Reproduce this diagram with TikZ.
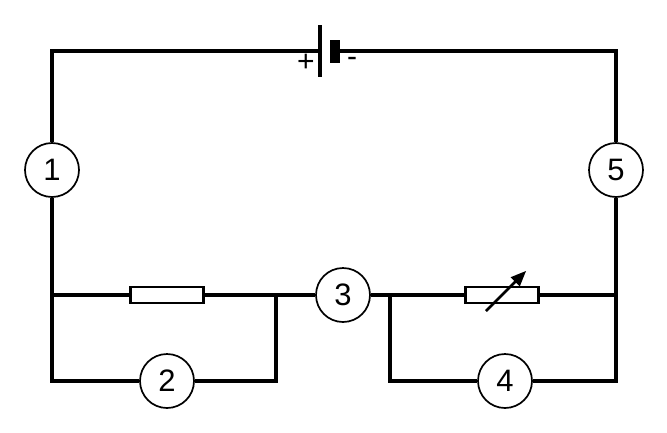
\documentclass[tikz,border=0pt]{standalone}
\usepackage{fontspec}
\setmainfont{Liberation Sans}
\usepackage{tikz}
\usetikzlibrary{arrows,calc}

\begin{document}
\begin{tikzpicture}[x=1pt,y=-1pt,
  wire/.style={line width=3.2pt},
  meter/.style={circle,draw,line width=1.7pt,minimum size=54pt,inner sep=0pt,fill=white,font=\fontsize{31}{36}\selectfont},
  resistor/.style={rectangle,draw,line width=2.2pt,minimum width=73pt,minimum height=16pt,inner sep=0pt,fill=white}]
\useasboundingbox (0,0) rectangle (667,432);
% corners
\coordinate (tl) at (52,51);
\coordinate (tr) at (616,51);
\coordinate (ml) at (52,295);
\coordinate (mr) at (616,295);
\coordinate (bl) at (52,381);
\coordinate (br) at (616,381);
\coordinate (jl) at (276,295);
\coordinate (jr) at (390,295);
\coordinate (kl) at (276,381);
\coordinate (kr) at (390,381);
\coordinate (plus) at (320,51);
\coordinate (minus) at (340,51);
% meters and resistors
\node[meter] (m1) at (52,170) {1};
\node[meter] (m2) at (167,381) {2};
\node[meter] (m3) at (343,295) {3};
\node[meter] (m4) at (505,381) {4};
\node[meter] (m5) at (616,170) {5};
\node[resistor] (r1) at (167,295) {};
\node[resistor] (r2) at (502,295) {};
% wires
\draw[wire] (plus) -- (tl) -- (m1) -- (ml) -- (bl) -- (m2) -- (kl) -- (jl);
\draw[wire] (minus) -- (tr) -- (m5) -- (mr) -- (br) -- (m4) -- (kr) -- (jr);
\draw[wire] (ml) -- (r1) -- (jl) -- (m3) -- (jr) -- (r2) -- (mr);
% battery
\draw[wire] (320,25) -- (320,77);
\fill (330,40) rectangle (340,63);
\node[font=\fontsize{30}{34}\selectfont] (pl) at (306,63) {+};
\node[font=\fontsize{30}{34}\selectfont] (mi) at (352,62) {-};
% rheostat arrow
\draw[line width=2.6pt,-triangle 45] ($(r2)+(-16,16)$) -- ($(r2)+(24,-24)$);
\end{tikzpicture}
\end{document}
